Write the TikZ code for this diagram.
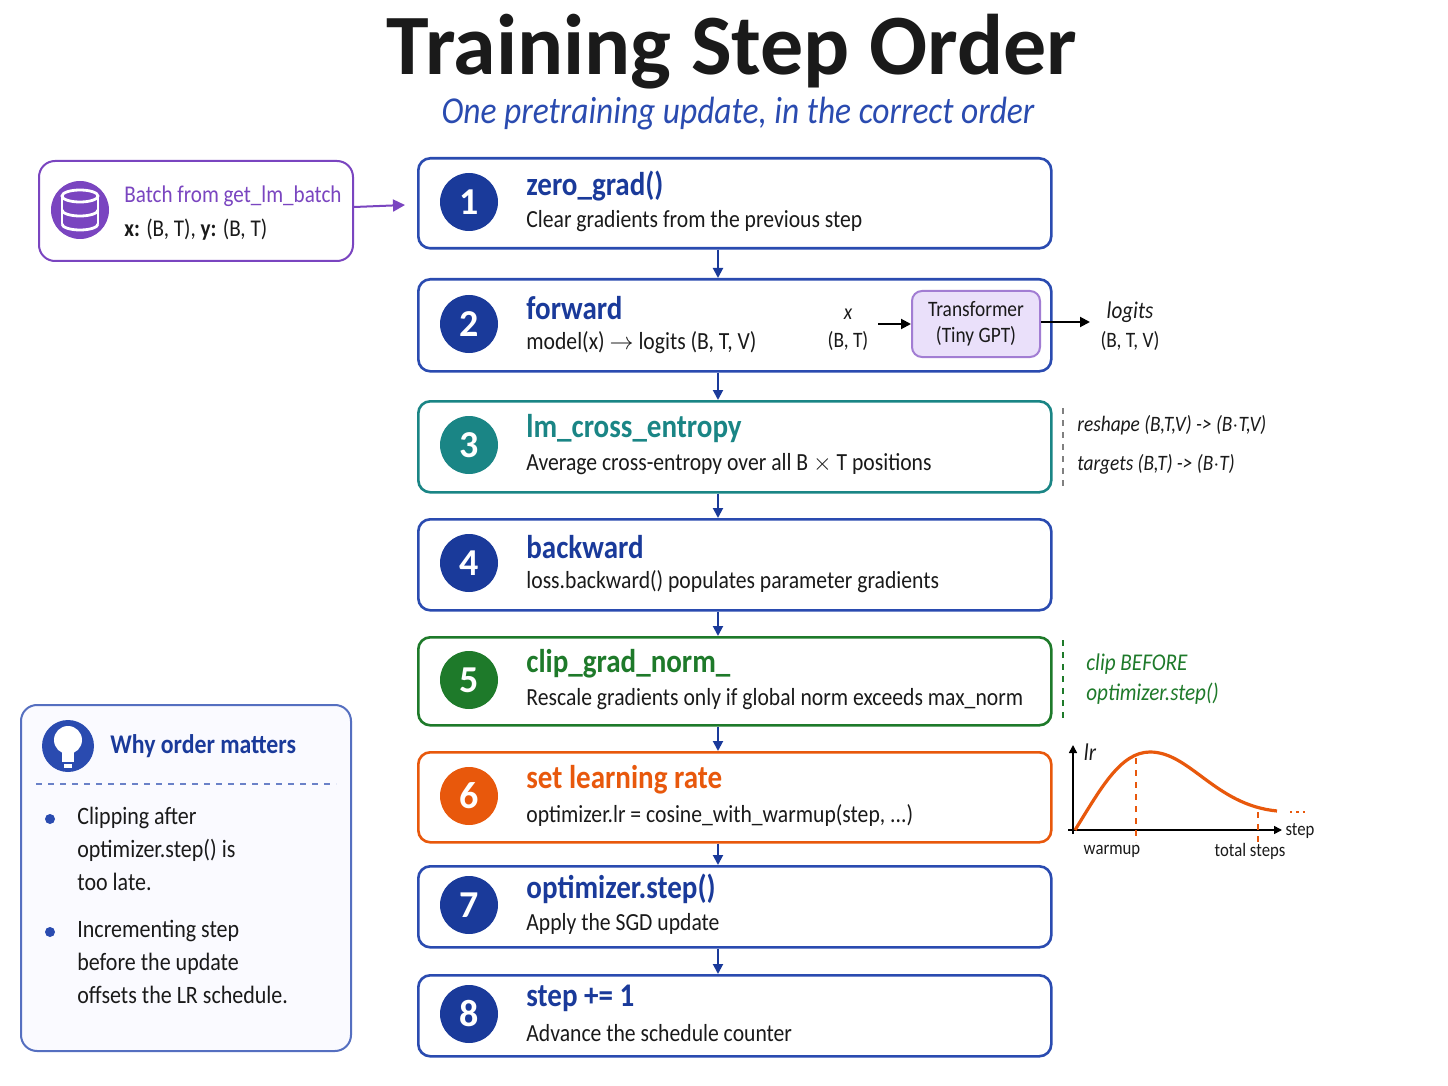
\documentclass[tikz,border=0pt]{standalone}
\usepackage{fontspec}
\setmainfont{Carlito}[FakeStretch=0.88]
\newfontfamily\titlefont{Carlito}
\usetikzlibrary{arrows.meta}
\definecolor{dblue}{HTML}{1A3A9A}
\definecolor{bblue}{HTML}{2A4BB0}
\definecolor{teal3}{HTML}{1A8585}
\definecolor{green5}{HTML}{1E7A2A}
\definecolor{orange6}{HTML}{E8580C}
\definecolor{purp}{HTML}{7A45C0}
\definecolor{lpurp}{HTML}{EAE0FA}
\definecolor{txt}{HTML}{1A1A1A}
\tikzset{
 stepbox/.style={draw=#1,line width=1.3pt,rounded corners=6pt,minimum width=316.5pt,minimum height=44pt,anchor=north west,fill=white},
 numc/.style={circle,fill=#1,minimum size=29pt,inner sep=0pt,text=white,font=\titlefont\fontsize{19}{19}\selectfont\bfseries},
 ttl/.style={anchor=west,font=\fontsize{16.5}{16}\selectfont\bfseries,text=#1,inner sep=0pt},
 sub/.style={anchor=west,font=\fontsize{12.3}{12}\selectfont,text=txt,inner sep=0pt},
 arr/.style={-{Triangle[length=5pt,width=5pt]},line width=1pt,draw=dblue},
}
\begin{document}
\begin{tikzpicture}[x=0.5pt,y=-0.5pt]
\useasboundingbox (0,0) rectangle (1448,1086);
\fill[white] (0,0) rectangle (1448,1086);
\node[font=\titlefont\fontsize{43}{43}\selectfont\bfseries,text=txt] (title) at (732,52) {Training Step Order};
\node[font=\fontsize{19}{19}\selectfont\itshape,text=bblue] (subt) at (738,114) {One pretraining update, in the correct order};
% steps
\foreach \i/\t/\h/\c in {1/157/90/bblue,2/278/92/bblue,3/400/91/teal3,4/518/91/bblue,5/636/88/green5,6/751/90/orange6,7/865/81/bblue,8/974/81/bblue}{
  \node[stepbox=\c,minimum height=\h*0.5pt] (s\i) at (417,\t) {};
}
\foreach \i/\y/\c/\T/\S in {
 1/202/dblue/{zero\_grad()}/{Clear gradients from the previous step},
 2/324/dblue/{forward}/{model(x) $\rightarrow$ logits (B, T, V)},
 3/445/teal3/{lm\_cross\_entropy}/{Average cross-entropy over all B $\times$ T positions},
 4/563/dblue/{backward}/{loss.backward() populates parameter gradients},
 5/680/green5/{clip\_grad\_norm\_}/{Rescale gradients only if global norm exceeds max\_norm},
 6/796/orange6/{set learning rate}/{optimizer.lr = cosine\_with\_warmup(step, ...)},
 7/905/dblue/{optimizer.step()}/{Apply the SGD update},
 8/1014/dblue/{step += 1}/{Advance the schedule counter}}{
 \node[numc=\c] (n\i) at (469,\y) {\i};
 \node[ttl=\c] (t\i) at (526,\y-16) {\T};
 \node[sub] (u\i) at (526,\y+19) {\S};
}
\foreach \a/\b in {1/2,2/3,3/4,4/5,5/6,6/7,7/8}{
 \draw[arr] (s\a.south -| 718,0) -- (s\b.north -| 718,0);
}
% batch
\node[draw=purp,line width=1pt,rounded corners=8pt,minimum width=157pt,minimum height=50pt,anchor=north west] (batch) at (38,160) {};
\node[circle,fill=purp,minimum size=29pt,inner sep=0pt] (bic) at (80,210) {};
\begin{scope}[white,line width=1.4pt]
\draw (80,196) ellipse (9pt and 3pt);
\draw (62,196) -- (62,224) (98,196) -- (98,224);
\draw (62,210) arc[start angle=180,end angle=360,x radius=9pt,y radius=3pt];
\draw (62,224) arc[start angle=180,end angle=360,x radius=9pt,y radius=3pt];
\end{scope}
\node[anchor=west,inner sep=0pt,font=\fontsize{12}{12}\selectfont,text=purp] (bt) at (124,196) {Batch from get\_lm\_batch};
\node[anchor=west,inner sep=0pt,font=\fontsize{12}{12}\selectfont,text=txt] (bs) at (124,230) {\textbf{x:} (B, T), \textbf{y:} (B, T)};
\draw[-{Triangle[length=6pt,width=6pt]},line width=1pt,purp] (batch.east |- 0,207) -- (405,205);
% forward detail
\node[font=\fontsize{11}{11}\selectfont\itshape,text=txt] (fx) at (848,314) {x};
\node[font=\fontsize{11}{11}\selectfont,text=txt] (fbt) at (848,341) {(B, T)};
\node[draw=purp!70,fill=lpurp,line width=1pt,rounded corners=5pt,minimum width=64pt,minimum height=33pt,align=center,font=\fontsize{11}{13}\selectfont,text=txt] (tr) at (976,324) {Transformer\\(Tiny GPT)};
\coordinate (fa) at (878,324);
\draw[-{Triangle[length=5pt,width=5pt]},line width=1pt] (fa) -- (tr.west);
\coordinate (la) at (1090,322);
\draw[-{Triangle[length=5pt,width=5pt]},line width=1pt] (tr.east |- la) -- (la);
\node[font=\fontsize{12}{12}\selectfont\itshape,text=txt] (lg) at (1130,312) {logits};
\node[font=\fontsize{11}{11}\selectfont,text=txt] (lgs) at (1130,341) {(B, T, V)};
% step3 side
\draw[dashed,gray,line width=0.8pt] (1063,408) -- (1063,488);
\node[anchor=west,inner sep=0pt,font=\fontsize{11}{11}\selectfont\itshape,text=txt] (r1) at (1077,425) {reshape (B,T,V) -> (B$\cdot$T,V)};
\node[anchor=west,inner sep=0pt,font=\fontsize{11}{11}\selectfont\itshape,text=txt] (r2) at (1077,464) {targets (B,T) -> (B$\cdot$T)};
% step5 side
\draw[dashed,green5,line width=0.8pt] (1063,640) -- (1063,720);
\node[anchor=west,inner sep=0pt,font=\fontsize{12}{12}\selectfont\itshape,text=green5] (c1) at (1086,664) {clip BEFORE};
\node[anchor=west,inner sep=0pt,font=\fontsize{12}{12}\selectfont\itshape,text=green5] (c2) at (1086,694) {optimizer.step()};
% lr plot
\draw[-{Triangle[length=4pt,width=4pt]},line width=0.8pt] (1073,834) -- (1073,745);
\draw[-{Triangle[length=4pt,width=4pt]},line width=0.8pt] (1068,830) -- (1282,830);
\draw[dashed,orange6,line width=0.7pt] (1136,758) -- (1136,842);
\draw[dashed,orange6,line width=0.7pt] (1258,812) -- (1258,842);
\draw[orange6,line width=1.6pt] (1075,830) .. controls (1100,790) and (1120,752) .. (1150,752) .. controls (1190,752) and (1215,805) .. (1277,811);
\draw[dotted,orange6,line width=1.2pt] (1290,812) -- (1306,812);
\node[font=\fontsize{12}{12}\selectfont\itshape,text=txt] (lr) at (1090,752) {lr};
\node[font=\fontsize{9.5}{9}\selectfont,text=txt] (st) at (1300,831) {step};
\node[font=\fontsize{9.5}{9}\selectfont,text=txt] (wu) at (1112,851) {warmup};
\node[font=\fontsize{9.5}{9}\selectfont,text=txt] (ts) at (1250,851) {total steps};
% why box
\node[draw=bblue!80,fill=blue!2,line width=1pt,rounded corners=8pt,minimum width=165pt,minimum height=173pt,anchor=north west] (why) at (20,704) {};
\node[circle,fill=bblue,minimum size=26pt,inner sep=0pt] (bulb) at (68,746) {};
\fill[white] (68,740) circle (7pt);
\fill[white] (62,750) rectangle (74,762);
\fill[white] (64,764) rectangle (72,768);
\node[anchor=west,inner sep=0pt,font=\fontsize{13.5}{13}\selectfont\bfseries,text=dblue] (wt) at (110,746) {Why order matters};
\draw[dashed,bblue!70,line width=0.7pt] (36,784) -- (336,784);
\foreach \y in {819,932}{\fill[bblue] (50,\y) circle (2.5pt);}
\node[anchor=north west,inner sep=0pt,align=left,font=\fontsize{12.5}{16.5}\selectfont,text=txt] (w1) at (77,807) {Clipping after\\optimizer.step() is\\too late.};
\node[anchor=north west,inner sep=0pt,align=left,font=\fontsize{12.5}{16.5}\selectfont,text=txt] (w2) at (77,920) {Incrementing step\\before the update\\offsets the LR schedule.};
\end{tikzpicture}
\end{document}
